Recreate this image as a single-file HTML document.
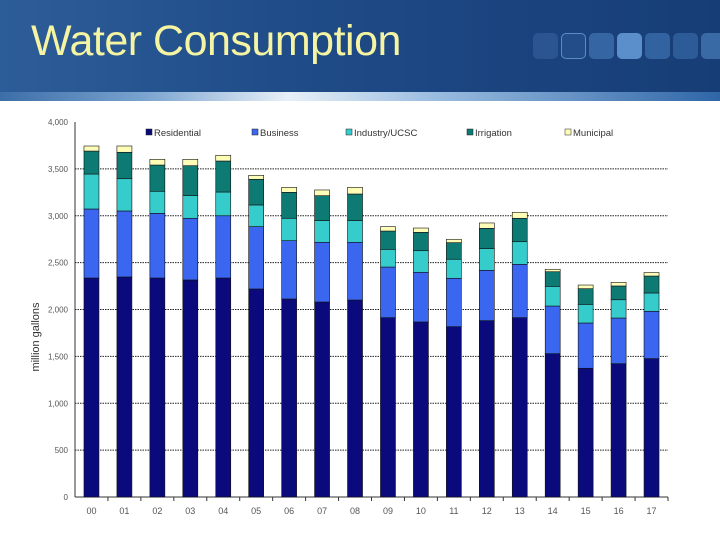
<!DOCTYPE html>
<html><head><meta charset="utf-8"><style>
body{margin:0;width:720px;height:540px;overflow:hidden;background:#fff;font-family:"Liberation Sans",sans-serif;position:relative}
#hdr{position:absolute;left:0;top:0;width:720px;height:92px;background:linear-gradient(90deg,#2d5d98 0%,#1e4a86 45%,#173d76 100%)}
#band{position:absolute;left:0;top:92px;width:720px;height:9px;background:linear-gradient(90deg,#3c6ea8 0%,#7aa3cf 20%,#e8f0f8 40%,#9bbde0 60%,#2f66a8 100%)}
#title{position:absolute;left:31px;top:17px;font-size:43px;color:#f4f4a2;letter-spacing:-0.5px}
.sq{position:absolute;top:33px;width:25px;height:26px;border-radius:5px}
</style></head><body>
<div id="hdr"></div>
<div id="band"></div>
<div id="title">Water Consumption</div>
<div class="sq" style="left:533px;background:#2a5590"></div>
<div class="sq" style="left:561px;background:#234d88;border:1px solid #5d8cc4;box-sizing:border-box"></div>
<div class="sq" style="left:589px;background:#3566a3"></div>
<div class="sq" style="left:617px;background:#5b8fcb"></div>
<div class="sq" style="left:645px;background:#3262a0"></div>
<div class="sq" style="left:673px;background:#2c5b98"></div>
<div class="sq" style="left:701px;background:#3a6aa6"></div>
<svg id="chart" width="720" height="540" style="position:absolute;left:0;top:0"></svg>
<script>
const categories=["00","01","02","03","04","05","06","07","08","09","10","11","12","13","14","15","16","17"];
const residential=[2336,2347,2336,2315,2336,2219,2112,2080,2101,1913,1867,1817,1881,1913,1529,1373,1422,1476];
const business=[736,704,690,658,664,665,622,637,616,540,530,516,537,569,508,483,487,505];
const industry=[373,344,235,241,253,231,239,231,231,189,230,203,231,241,210,199,195,195];
const irrigation=[245,282,280,320,331,274,277,266,284,195,196,177,217,250,156,167,147,181];
const municipal=[54,67,61,68,61,42,53,61,71,47,46,36,57,64,26,39,39,37];
const yTicks=[0,500,1000,1500,2000,2500,3000,3500,4000];
const yTickLabels=["0","500","1,000","1,500","2,000","2,500","3,000","3,500","4,000"];
const seriesNames=["Residential","Business","Industry/UCSC","Irrigation","Municipal"];
const seriesData=[residential,business,industry,irrigation,municipal];
const colors=["#0a0a7c","#3a66f0","#36cccc","#0d7a74","#fdfdb8"];
const svg=document.getElementById('chart');
const NS="http://www.w3.org/2000/svg";
const x0=75,x1=668,yBase=497,yTop=122,vmax=4000;
const y=v=>yBase-(v/vmax)*(yBase-yTop);
const step=(x1-x0)/categories.length;
const xc=i=>x0+step*(i+0.5);
const bw=15;
function mk(t,a){const e=document.createElementNS(NS,t);for(const k in a)e.setAttribute(k,a[k]);svg.appendChild(e);return e;}
yTicks.forEach((v,i)=>{
  if(v>0&&v<vmax){const g=mk('line',{x1:x0,x2:x1,y1:y(v),y2:y(v),stroke:'#222','stroke-width':1,'stroke-dasharray':'1.5,1'});
  
  }
  const t=mk('text',{x:68,y:y(v)+3,'text-anchor':'end','font-size':8,fill:'#555'});
  t.textContent=yTickLabels[i];
  
  
});
const ax=mk('line',{x1:x0,x2:x0,y1:yTop,y2:yBase,stroke:'#333','stroke-width':1});


const xa=mk('line',{x1:x0,x2:x1,y1:yBase,y2:yBase,stroke:'#333','stroke-width':1});


categories.forEach((c,i)=>{
  const tk=mk('line',{x1:x0+step*(i+1),x2:x0+step*(i+1),y1:yBase,y2:yBase+4,stroke:'#333'});
  
  
  let cum=0;
  seriesData.forEach((s,k)=>{
    const v=s[i];
    const r=mk('rect',{x:xc(i)-bw/2,y:y(cum+v),width:bw,height:y(cum)-y(cum+v),fill:colors[k],stroke:'#111','stroke-width':0.6});
    
    
    cum+=v;
  });
  const t=mk('text',{x:xc(i),y:514,'text-anchor':'middle','font-size':9,fill:'#555'});
  t.textContent=c;
  
  
});
const lx=[146,252,346,467,565];
seriesNames.forEach((n,k)=>{
  const r=mk('rect',{x:lx[k],y:129,width:6,height:6,fill:colors[k],stroke:'#222','stroke-width':0.5});
  
  
  const t=mk('text',{x:lx[k]+8,y:136,'font-size':9.5,fill:'#333'});
  t.textContent=n;
  
  
});
const yl=mk('text',{x:0,y:0,'font-size':11,fill:'#333','text-anchor':'middle',transform:'translate(39,337) rotate(-90)'});
yl.textContent='million gallons';


</script>
</body></html>
